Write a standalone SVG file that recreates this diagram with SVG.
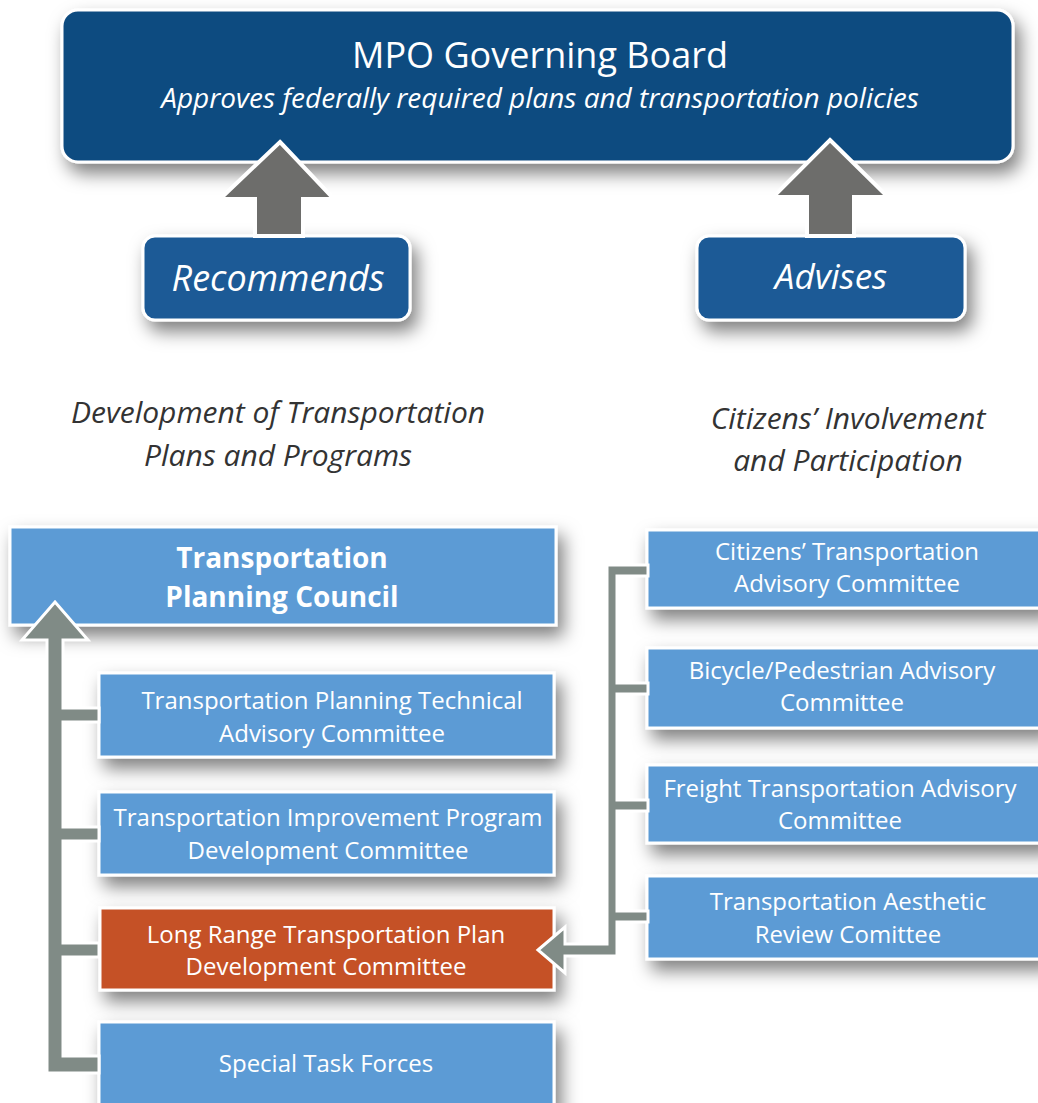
<svg xmlns="http://www.w3.org/2000/svg" width="1038" height="1103" viewBox="0 0 1038 1103">
<defs>
<filter id="sh" x="-10%" y="-20%" width="130%" height="160%">
<feDropShadow dx="6" dy="10" stdDeviation="9" flood-color="#000" flood-opacity="0.5"/>
</filter>
<style>
text{font-family:"Open Sans","Noto Sans",sans-serif;fill:#fff;text-anchor:middle}
.lb{fill:#5b9bd5;stroke:#fff;stroke-width:3}
.dk{fill:#114b80;stroke:#fff;stroke-width:3}
.md{fill:#1b5a96;stroke:#fff;stroke-width:3}
.or{fill:#c55127;stroke:#fff;stroke-width:3}
.bt{font-size:24px}
.it{font-style:italic}
.cap{font-size:30px;font-style:italic;fill:#333}
.ua{fill:#6d6d6b;stroke:#fff;stroke-width:4;stroke-linejoin:miter}
.ca{fill:#808b86;stroke:#fff;stroke-width:3;stroke-linejoin:miter}
</style>
</defs>
<rect width="1038" height="1103" fill="#fff"/>

<g id="board">
<rect class="dk" x="62" y="10" width="951" height="152" rx="16" filter="url(#sh)"/>
<text x="540" y="68" font-size="36">MPO Governing Board</text>
<text x="540" y="108" font-size="28" class="it">Approves federally required plans and transportation policies</text>
</g>

<g id="recommends">
<rect class="md" x="143" y="236" width="267" height="84" rx="12" filter="url(#sh)"/>
<text x="278" y="291" font-size="36" class="it">Recommends</text>
</g>
<g id="advises">
<rect class="md" x="697" y="236" width="268" height="84" rx="12" filter="url(#sh)"/>
<text x="831" y="289" font-size="35" class="it">Advises</text>
</g>

<g id="label-dev">
<text class="cap" x="278" y="423">Development of Transportation</text>
<text class="cap" x="278" y="466">Plans and Programs</text>
</g>
<g id="label-cit">
<text class="cap" x="848" y="429">Citizens’ Involvement</text>
<text class="cap" x="848" y="471">and Participation</text>
</g>

<g id="tpc">
<rect class="lb" x="10" y="527" width="546" height="98" filter="url(#sh)"/>
<text x="282" y="568" font-size="28" font-weight="bold">Transportation</text>
<text x="282" y="607" font-size="28" font-weight="bold">Planning Council</text>
</g>
<g id="tptac">
<rect class="lb" x="99" y="673" width="455" height="84" filter="url(#sh)"/>
<text class="bt" x="332" y="709">Transportation Planning Technical</text>
<text class="bt" x="332" y="742">Advisory Committee</text>
</g>
<g id="tipdc">
<rect class="lb" x="99" y="792" width="455" height="83" filter="url(#sh)"/>
<text class="bt" x="328" y="826">Transportation Improvement Program</text>
<text class="bt" x="328" y="859">Development Committee</text>
</g>
<g id="lrtp">
<rect class="or" x="100" y="908" width="454" height="82" filter="url(#sh)"/>
<text class="bt" x="326" y="943">Long Range Transportation Plan</text>
<text class="bt" x="326" y="975">Development Committee</text>
</g>
<g id="stf">
<rect class="lb" x="99" y="1022" width="455" height="100" filter="url(#sh)"/>
<text class="bt" x="326" y="1072">Special Task Forces</text>
</g>

<g id="ctac">
<rect class="lb" x="647" y="530" width="400" height="78" filter="url(#sh)"/>
<text class="bt" x="847" y="560">Citizens’ Transportation</text>
<text class="bt" x="847" y="592">Advisory Committee</text>
</g>
<g id="bpac">
<rect class="lb" x="647" y="648" width="400" height="80" filter="url(#sh)"/>
<text class="bt" x="842" y="679">Bicycle/Pedestrian Advisory</text>
<text class="bt" x="842" y="711">Committee</text>
</g>
<g id="ftac">
<rect class="lb" x="647" y="765" width="400" height="78" filter="url(#sh)"/>
<text class="bt" x="840" y="797">Freight Transportation Advisory</text>
<text class="bt" x="840" y="829">Committee</text>
</g>
<g id="tarc">
<rect class="lb" x="647" y="876" width="400" height="83" filter="url(#sh)"/>
<text class="bt" x="848" y="910">Transportation Aesthetic</text>
<text class="bt" x="848" y="943">Review Comittee</text>
</g>

<g id="connectors">
<polygon class="ua" points="280,142 334,199 303,199 303,236 255,236 255,199 220,199"/>
<polygon class="ua" points="830,140 888,197 854,197 854,236 807,236 807,197 773,197"/>
<path class="ca" d="M55,602 L88,640 L63,640 L63,708 L99,708 L99,722 L63,722 L63,827 L99,827 L99,841 L63,841 L63,943 L99,943 L99,957 L63,957 L63,1056 L99,1056 L99,1073 L47,1073 L47,640 L22,640 Z"/>
<path class="ca" d="M538,950 L565,927 L565,944 L607,944 L607,565 L648,565 L648,576 L617,576 L617,683 L648,683 L648,694 L617,694 L617,800 L648,800 L648,811 L617,811 L617,911 L648,911 L648,922 L617,922 L617,956 L565,956 L565,973 Z"/>
</g>
</svg>
